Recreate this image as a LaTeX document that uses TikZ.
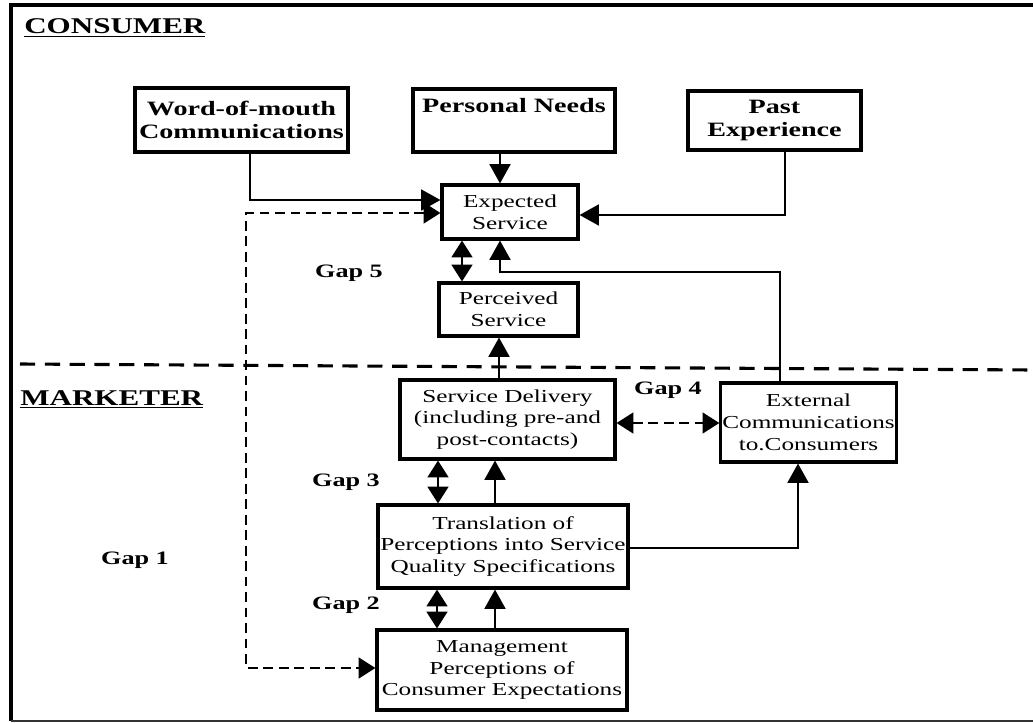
\documentclass[tikz,border=0pt]{standalone}
\usepackage{fontspec}
\setmainfont{Liberation Serif}[FakeStretch=1.38]
\usepackage{tikz}
\usetikzlibrary{arrows.meta, positioning, calc}

\begin{document}
\begin{tikzpicture}[
    x=0.025cm, y=-0.025cm,
    box/.style={draw, line width=2.2pt, align=center, inner xsep=1pt, inner ysep=2pt, font=\fontsize{13}{15.5}\selectfont},
    inbox/.style={box, font=\fontsize{14.5}{16.5}\selectfont\bfseries},
    conn/.style={line width=1.5pt, -{Triangle[length=0.48cm, width=0.52cm]}},
    gaparrow/.style={line width=1.5pt, dash pattern=on 7pt off 4pt, {Triangle[length=0.42cm, width=0.52cm]}-{Triangle[length=0.42cm, width=0.52cm]}},
    gaplabel/.style={font=\fontsize{13.5}{15}\selectfont\bfseries},
    side/.style={font=\fontsize{16}{18}\selectfont\bfseries, anchor=west, inner sep=0pt}
]
    \useasboundingbox (0,0) rectangle (1033,723);

    % frame and divider
    \draw[line width=3pt] (1033,5) -- (11,5) -- (11,721);
    \draw[line width=1pt, black!80] (11,721) -- (1033,721);
    \draw[line width=2.2pt, dash pattern=on 0.38cm off 0.24cm] (20,364) -- (1033,370);
    \node[side] (consumer) at (24,28) {\underline{CONSUMER}};
    \node[side] (marketer) at (20,399) {\underline{MARKETER}};

    % Consumer
    \node[inbox, minimum width=5.325cm, minimum height=1.6cm] (wom) at (241.5,120) {Word-of-mouth\\Communications};
    \node[inbox, minimum width=5.05cm, minimum height=1.575cm] (needs) at (514,120.5) {Personal Needs\\\strut};
    \node[inbox, minimum width=4.325cm, minimum height=1.475cm] (past) at (774.5,120.5) {Past\\Experience};
    \node[box, minimum width=3.4cm, minimum height=1.35cm] (exp) at (510,212) {Expected\\Service};
    \node[box, minimum width=3.475cm, minimum height=1.325cm] (perc) at (508.5,309.5) {Perceived\\Service};

    % Marketer
    \node[box, minimum width=5.375cm, minimum height=1.975cm] (deliv) at (507.5,419.5) {Service Delivery\\(including pre-and\\post-contacts)};
    \node[box, minimum width=4.325cm, minimum height=1.975cm] (extc) at (808.5,422.5) {External\\Communications\\to.Consumers};
    \node[box, minimum width=6.25cm, minimum height=2.075cm] (trans) at (503,546.5) {Translation of\\Perceptions into Service\\Quality Specifications};
    \node[box, minimum width=6.25cm, minimum height=2cm] (mgmt) at (502,670) {Management\\Perceptions of\\Consumer Expectations};

    % gap labels
    \node[gaplabel] (gap1) at (135,560) {Gap 1};
    \node[gaplabel] (gap2) at (346,605) {Gap 2};
    \node[gaplabel] (gap3) at (346,482) {Gap 3};
    \node[gaplabel] (gap4) at (668,390) {Gap 4};
    \node[gaplabel] (gap5) at (349,273) {Gap 5};

    % connectors
    \draw[conn] ($(wom.south)+(8.5,0)$) |- ($(exp.west)+(0,-12)$);
    \draw[conn] ($(needs.south)+(-14,0)$) -- ($(exp.north)+(-10,0)$);
    \draw[conn] ($(past.south)+(10.5,0)$) |- ($(exp.east)+(0,3)$);
    \draw[conn] ($(extc.north)+(-28.5,0)$) |- ($(exp.south)+(-10,31)$) -- ($(exp.south)+(-10,0)$);
    \draw[conn] ($(deliv.north)+(-8.5,0)$) -- ($(perc.south)+(-9.5,0)$);
    \draw[conn] ($(trans.north)+(-8,0)$) -- ($(deliv.south)+(-12.5,0)$);
    \draw[conn] ($(mgmt.north)+(-7,0)$) -- ($(trans.south)+(-8,0)$);
    \draw[conn] ($(trans.east)+(0,1.5)$) -| ($(extc.south)+(-10.5,0)$);

    % gaps
    \draw[gaparrow] ($(exp.west)+(0,1)$) -| ($(mgmt.west)+(-129,-2)$) -- ($(mgmt.west)+(0,-2)$);
    \draw[gaparrow] ($(exp.south)+(-48,0)$) -- ($(perc.north)+(-46.5,0)$);
    \draw[gaparrow] ($(deliv.east)+(0,3.5)$) -- ($(extc.west)+(0,0.5)$);
    \draw[gaparrow] ($(trans.north)+(-65,0)$) -- ($(deliv.south)+(-69.5,0)$);
    \draw[gaparrow] ($(mgmt.north)+(-65,0)$) -- ($(trans.south)+(-66,0)$);
\end{tikzpicture}
\end{document}
